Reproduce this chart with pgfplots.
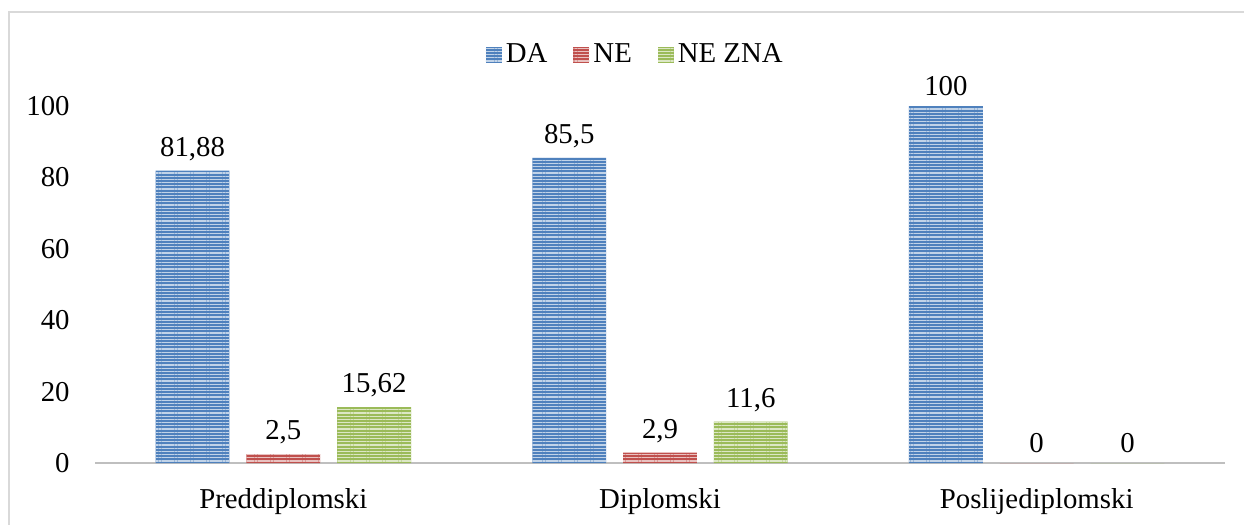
\documentclass[border=0pt]{standalone}
\usepackage{pgfplots}
\pgfplotsset{compat=1.18}
\usetikzlibrary{patterns.meta}
\usepackage{fontspec}
\setmainfont{Liberation Serif}
\definecolor{cDA}{HTML}{4F81BD}
\definecolor{cNE}{HTML}{C0504D}
\definecolor{cNZ}{HTML}{9BBB59}
\definecolor{axgray}{HTML}{BFBFBF}
\definecolor{frgray}{HTML}{D9D9D9}
\begin{document}
\fontsize{14.4}{17}\selectfont
\begin{tikzpicture}
\useasboundingbox (0,0) rectangle (622pt,262.5pt);
\draw[frgray, line width=0.7pt] (4.5pt,0) -- (4.5pt,256.5pt) -- (622pt,256.5pt);
\begin{axis}[
  at={(47.5pt,31pt)}, anchor=south west,
  scale only axis, width=565pt, height=178.5pt,
  xmin=-0.5, xmax=2.5, ymin=0, ymax=100,
  clip=false,
  xtick={0,1,2},
  xticklabels={Preddiplomski,Diplomski,Poslijediplomski},
  ytick={0,20,40,60,80,100},
  major tick length=0pt,
  axis lines*=left,
  y axis line style={draw=none},
  x axis line style={draw=axgray, line width=1.2pt, -},
  /pgf/number format/assume math mode=true,
  /pgf/number format/use comma,
  xticklabel style={yshift=-8pt},
  yticklabel style={xshift=-7.7pt},
  tick label style={font=\fontsize{14.4}{17}\selectfont},
  ybar=0pt, bar width=0.196,
  nodes near coords,
  every node near coord/.append style={font=\fontsize{14.4}{17}\selectfont, /pgf/number format/use comma, /pgf/number format/assume math mode=true},
  legend style={at={(0.479,1.143)}, anchor=center, draw=none, legend columns=3,
    font=\fontsize{14.4}{17}\selectfont,
    /tikz/every even column/.append style={column sep=11pt}},
  legend image code/.code={\fill[#1] (0pt,-4pt) rectangle (8pt,4pt);},
]
\addplot[draw=none, fill=cDA, bar shift=-0.241,
  postaction={pattern={Lines[angle=0,distance=1.6pt,line width=0.55pt]}, pattern color=cDA!35!white}]
  coordinates {(0,81.88) (1,85.5) (2,100)};
\addplot[draw=none, fill=cNE, bar shift=0,
  postaction={pattern={Lines[angle=0,distance=1.6pt,line width=0.55pt]}, pattern color=cNE!35!white}]
  coordinates {(0,2.5) (1,2.9) (2,0)};
\addplot[draw=none, fill=cNZ, bar shift=0.241,
  postaction={pattern={Lines[angle=0,distance=1.6pt,line width=0.55pt]}, pattern color=cNZ!35!white}]
  coordinates {(0,15.62) (1,11.6) (2,0)};
\legend{DA,NE,NE ZNA}
\end{axis}
\end{tikzpicture}
\end{document}
